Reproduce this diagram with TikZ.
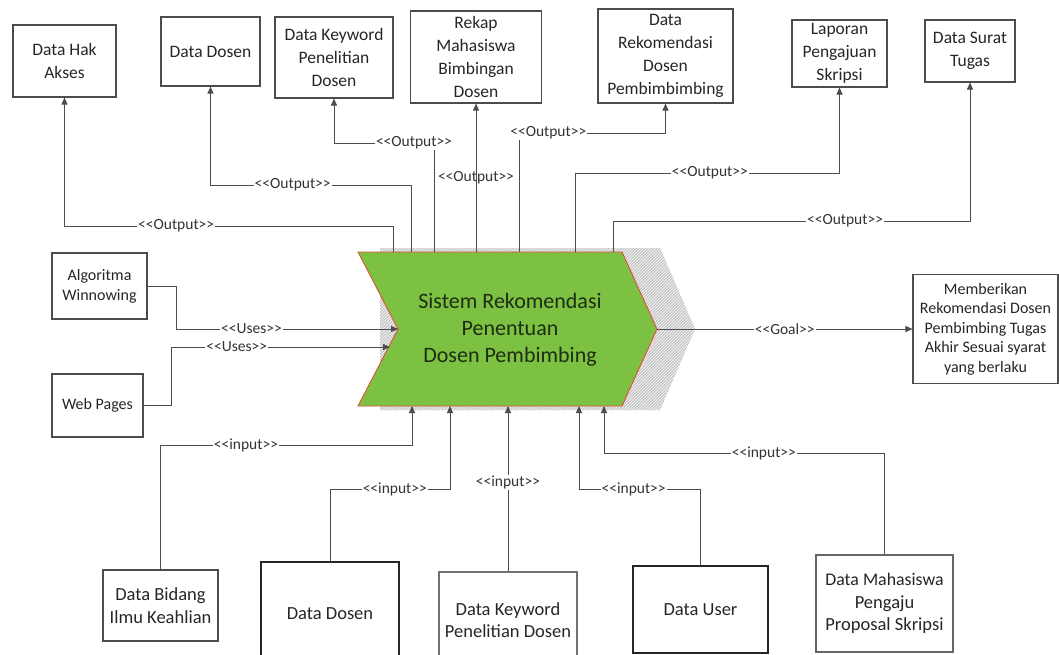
\documentclass[tikz,border=0pt]{standalone}
\usepackage{fontspec}
\setmainfont{Carlito}
\usetikzlibrary{arrows.meta,patterns}
% stereotype label such as <<Output>>, kerned so the angle brackets stay plain
\newcommand\stereo[1]{<\kern0pt<#1>\kern0pt>}
\definecolor{procgreen}{RGB}{124,193,66}
\definecolor{procedge}{RGB}{222,80,60}
\definecolor{proctext}{RGB}{30,45,20}
\begin{document}
\begin{tikzpicture}[x=1pt,y=-1pt,
  box/.style={draw=black!70, line width=1.1pt, fill=white, align=center,
    inner sep=1pt, text=black!85, font=\fontsize{17.5}{23}\selectfont},
  sidebox/.style={box, font=\fontsize{16}{20}\selectfont},
  lowbox/.style={box, font=\fontsize{18.5}{22.5}\selectfont},
  goalbox/.style={box, font=\fontsize{16}{19.5}\selectfont},
  conn/.style={draw=black!70, line width=0.9pt},
  arr/.style={conn, -{Triangle[length=7pt,width=6pt]}},
  lbl/.style={fill=white, inner sep=1pt, text=black!80,
    font=\fontsize{15.5}{17}\selectfont},
  lblclear/.style={lbl, fill=none},
]
\useasboundingbox (0,0) rectangle (1059,655);
\clip (0,0) rectangle (1059,655);
\fill[white] (0,0) rectangle (1059,655);

% ---- central process (chevron) with its hatched shadow ----
\fill[gray!45] (380,248) -- (660,248) -- (695,329) -- (660,410) -- (380,410) -- cycle;
\fill[pattern=north east lines, pattern color=white] (380,248) -- (660,248) -- (695,329) -- (660,410) -- (380,410) -- cycle;
\coordinate (cTL) at (358,252);
\coordinate (cTR) at (622,252);
\coordinate (cTip) at (657,329);
\coordinate (cBR) at (622,406);
\coordinate (cBL) at (358,406);
\coordinate (cNotch) at (398,329);
\draw[fill=procgreen, draw=procedge, line width=0.9pt]
  (cTL) -- (cTR) -- (cTip) -- (cBR) -- (cBL) -- (cNotch) -- cycle;
\node[align=center, text=proctext, font=\fontsize{22}{27}\selectfont] (sys) at (510,330)
  {Sistem Rekomendasi\\Penentuan\\Dosen Pembimbing};

% ports on the chevron
\coordinate (o1) at (393,252);
\coordinate (o2) at (411,252);
\coordinate (o3) at (434,252);
\coordinate (o4) at (476,252);
\coordinate (o5) at (519,252);
\coordinate (o6) at (575,252);
\coordinate (o7) at (613,252);
\coordinate (i1) at (412,406);
\coordinate (i2) at (450,406);
\coordinate (i3) at (508,406);
\coordinate (i4) at (579,406);
\coordinate (i5) at (604,406);
\coordinate (u2) at (390,347);

% ---- output artefacts ----
\node[box, minimum width=103, minimum height=72] (hak) at (64.5,61) {Data Hak\\Akses};
\node[box, minimum width=99, minimum height=69] (dosenT) at (210.5,51.5) {Data Dosen};
\node[box, minimum width=118, minimum height=81] (kwT) at (334,57.5) {Data Keyword\\Penelitian\\Dosen};
\node[box, minimum width=131, minimum height=92] (rekap) at (476,57) {Rekap\\Mahasiswa\\Bimbingan\\Dosen};
\node[box, minimum width=135, minimum height=94] (rekom) at (665.5,56) {Data\\Rekomendasi\\Dosen\\Pembimbimbing};
\node[box, minimum width=95, minimum height=67] (lap) at (839.5,53.5) {Laporan\\Pengajuan\\Skripsi};
\node[box, minimum width=90, minimum height=62] (surat) at (970,51) {Data Surat\\Tugas};

\draw[arr] (o1) -- (o1 |- 0,226) -- node[lbl,pos=0.66]{\stereo{Output}} (hak.south |- 0,226) -- (hak.south);
\draw[arr] (o2) -- (o2 |- 0,185) -- node[lbl,pos=0.59]{\stereo{Output}} (dosenT.south |- 0,185) -- (dosenT.south);
\draw[arr] (o3) -- (o3 |- 0,143) -- node[lbl,pos=0.2]{\stereo{Output}} (kwT.south |- 0,143) -- (kwT.south);
\draw[arr] (o4) -- node[lblclear,pos=0.5]{\stereo{Output}} (rekap.south);
\draw[arr] (o5) -- (o5 |- 0,133) -- node[lbl,pos=0.2]{\stereo{Output}} (rekom.south |- 0,133) -- (rekom.south);
\draw[arr] (o6) -- (o6 |- 0,173) -- node[lbl,pos=0.51]{\stereo{Output}} (lap.south |- 0,173) -- (lap.south);
\draw[arr] (o7) -- (o7 |- 0,221) -- node[lbl,pos=0.65]{\stereo{Output}} (surat.south |- 0,221) -- (surat.south);

% ---- resources used ----
\node[sidebox, minimum width=95, minimum height=66] (algo) at (99.5,286) {Algoritma\\Winnowing};
\node[sidebox, minimum width=91, minimum height=63] (web) at (97.5,405.5) {Web Pages};
\draw[arr] (algo.east) -- (176,286) -- (176,329) -- node[lbl,pos=0.34]{\stereo{Uses}} (cNotch);
\draw[arr] (web.east) -- (171,405.5) -- (171,347) -- node[lbl,pos=0.3]{\stereo{Uses}} (u2);

% ---- goal ----
\node[goalbox, minimum width=145, minimum height=109] (goal) at (985.5,329)
  {Memberikan\\Rekomendasi Dosen\\Pembimbing Tugas\\Akhir Sesuai syarat\\yang berlaku};
\draw[arr] (cTip) -- node[lbl,pos=0.5]{\stereo{Goal}} (goal.west);

% ---- inputs ----
\node[lowbox, minimum width=115, minimum height=71] (bidang) at (160.5,605.5) {Data Bidang\\Ilmu Keahlian};
\node[lowbox, line width=1.5pt, draw=black!85, minimum width=138, minimum height=104] (dosenB) at (330,614) {Data Dosen};
\node[lowbox, draw=black!55, minimum width=138, minimum height=100] (kwB) at (508,622)
  {\raisebox{10pt}{\begin{tabular}{@{}c@{}}Data Keyword\\Penelitian Dosen\end{tabular}}};
\node[lowbox, line width=1.5pt, draw=black!85, minimum width=135, minimum height=87] (user) at (700.5,609.5)
  {\raisebox{-6pt}{Data User}};
\node[lowbox, draw=black!60, minimum width=137, minimum height=97] (mhs) at (884.5,603.5)
  {\fontsize{17.8}{25}\selectfont Data Mahasiswa\\Pengaju\\Proposal Skripsi};

\draw[arr] (bidang.north) -- (bidang.north |- 0,445) -- node[lbl,pos=0.34]{\stereo{input}} (i1 |- 0,445) -- (i1);
\draw[arr] (dosenB.north) -- (dosenB.north |- 0,489) -- node[lbl,pos=0.54]{\stereo{input}} (i2 |- 0,489) -- (i2);
\draw[arr] (kwB.north) -- node[lbl,pos=0.54]{\stereo{input}} (i3);
\draw[arr] (user.north) -- (user.north |- 0,489) -- node[lbl,pos=0.55]{\stereo{input}} (i4 |- 0,489) -- (i4);
\draw[arr] (mhs.north) -- (mhs.north |- 0,453) -- node[lbl,pos=0.43]{\stereo{input}} (i5 |- 0,453) -- (i5);
\end{tikzpicture}
\end{document}
